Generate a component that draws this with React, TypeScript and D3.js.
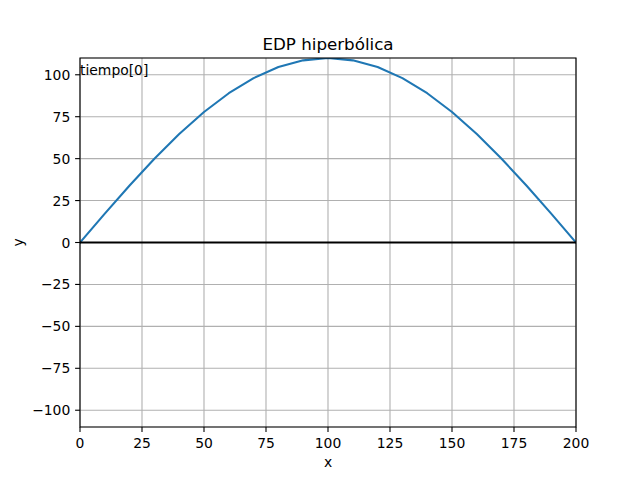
import React from "react";
import * as d3 from "d3";

const xValues = [0, 10, 20, 30, 40, 50, 60, 70, 80, 90, 100, 110, 120, 130, 140, 150, 160, 170, 180, 190, 200];
const yValues = [0, 17.2, 34.0, 49.9, 64.7, 77.8, 89.0, 98.0, 104.6, 108.6, 110, 108.6, 104.6, 98.0, 89.0, 77.8, 64.7, 49.9, 34.0, 17.2, 0];
const xTicks = [0, 25, 50, 75, 100, 125, 150, 175, 200];
const yTicks = [-100, -75, -50, -25, 0, 25, 50, 75, 100];
const titleText = "EDP hiperbólica";
const annotation = "tiempo[0]";

export default function App() {
  const W = 640, H = 480;
  const L = 80, R = 576, T = 58, B = 427;
  const x = d3.scaleLinear().domain([0, 200]).range([L, R]);
  const y = d3.scaleLinear().domain([-110, 110]).range([B, T]);
  const line = d3.line<number>().x((_, i) => x(xValues[i])).y((d) => y(d));
  const font = "DejaVu Sans, sans-serif";
  const fmt = (v: number) => (v < 0 ? "\u2212" + Math.abs(v) : String(v));
  return (
    <svg width={W} height={H} style={{ position: "absolute", left: 0, top: 0, background: "#fff" }} fontFamily={font}>
      <rect x={0} y={0} width={W} height={H} fill="#fff" />
      <defs>
        <clipPath id="clip">
          <rect x={L} y={T} width={R - L} height={B - T} />
        </clipPath>
      </defs>
      {xTicks.map((t) => (
        <line key={"gx" + t} x1={x(t)} x2={x(t)} y1={T} y2={B} stroke="#b0b0b0" strokeWidth={1.1} />
      ))}
      {yTicks.map((t) => (
        <line key={"gy" + t} x1={L} x2={R} y1={y(t)} y2={y(t)} stroke="#b0b0b0" strokeWidth={1.1} />
      ))}
      <g clipPath="url(#clip)">
        <path d={line(yValues) || ""} fill="none" stroke="#1f77b4" strokeWidth={2.08} strokeLinejoin="round" strokeLinecap="square" />
        <line x1={x(0)} x2={x(200)} y1={y(0)} y2={y(0)} stroke="#000" strokeWidth={2.08} />
      </g>
      <text x={x(0)} y={y(100)} fontSize={13.9} fill="#000">{annotation}</text>
      <rect x={L} y={T} width={R - L} height={B - T} fill="none" stroke="#000" strokeWidth={1.1} />
      {xTicks.map((t) => (
        <g key={"tx" + t}>
          <line x1={x(t)} x2={x(t)} y1={B} y2={B + 4.9} stroke="#000" strokeWidth={1.1} />
          <text x={x(t)} y={447.5} fontSize={13.9} textAnchor="middle" fill="#000">{fmt(t)}</text>
        </g>
      ))}
      {yTicks.map((t) => (
        <g key={"ty" + t}>
          <line x1={L - 4.9} x2={L} y1={y(t)} y2={y(t)} stroke="#000" strokeWidth={1.1} />
          <text x={L - 9.7} y={y(t) + 5} fontSize={13.9} textAnchor="end" fill="#000">{fmt(t)}</text>
        </g>
      ))}
      <text x={(L + R) / 2} y={49.5} fontSize={16.7} textAnchor="middle" fill="#000">{titleText}</text>
      <text x={(L + R) / 2} y={466.5} fontSize={13.9} textAnchor="middle" fill="#000">x</text>
      <text transform={`translate(22.5,${(T + B) / 2}) rotate(-90)`} fontSize={13.9} textAnchor="middle" fill="#000">y</text>
    </svg>
  );
}
